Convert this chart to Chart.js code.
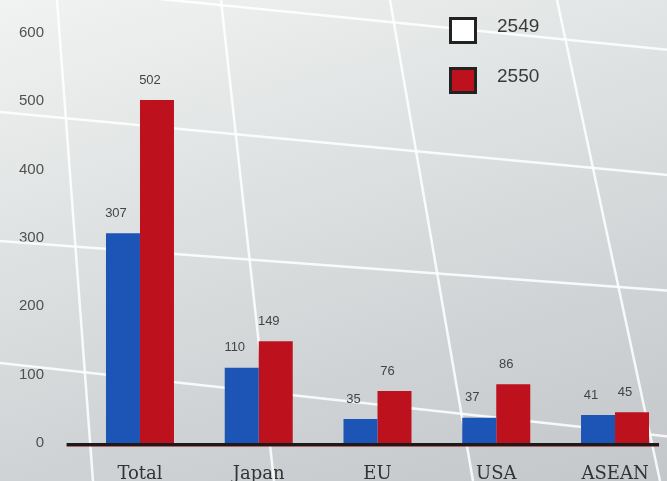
<!DOCTYPE html>
<html><head><meta charset="utf-8">
<script src="https://cdn.jsdelivr.net/npm/chart.js@4"></script>
<style>
html,body{margin:0;padding:0;width:667px;height:481px;overflow:hidden;}
body{background:linear-gradient(163deg,#f1f3f2 0%,#e0e3e3 35%,#d0d3d5 70%,#c3c7c9 100%);}
#wrap{position:relative;width:700px;height:481px;}
</style></head><body>
<div id="wrap"><canvas id="c" width="700" height="481"></canvas></div>
<script>
const categories = ['Total', 'Japan', 'EU', 'USA', 'ASEAN'];
const seriesNames = ['2549', '2550'];
const values2549 = [307, 110, 35, 37, 41];
const values2550 = [502, 149, 76, 86, 45];
const yTickValues = [0, 100, 200, 300, 400, 500, 600];

const barColors = ['#1d55b6', '#bd121d'];
const legendFills = ['#ffffff', '#bd121d'];

// decorative background lines of the photographed page (not data)
const decorLines = [
  [57, 0, 93, 481], [221, 0, 274, 481], [390, 0, 473, 481], [557, 0, 660, 481],
  [0, -17, 700, 53], [0, 112, 700, 178], [0, 241, 700, 293], [0, 363, 700, 440]
];

const decorPlugin = {
  id: 'decor',
  beforeDatasetsDraw(chart) {
    const ctx = chart.ctx;
    ctx.save();
    ctx.strokeStyle = 'rgba(255,255,255,0.85)';
    ctx.lineWidth = 2.5;
    decorLines.forEach(l => {
      ctx.beginPath(); ctx.moveTo(l[0], l[1]); ctx.lineTo(l[2], l[3]); ctx.stroke();
    });
    ctx.restore();
  }
};

const labelPlugin = {
  id: 'vals',
  afterDatasetsDraw(chart) {
    const ctx = chart.ctx;
    const ys = chart.scales.y;
    const area = chart.chartArea;
    const metaLast = chart.getDatasetMeta(chart.data.datasets.length - 1);
    const lastBar = metaLast.data[metaLast.data.length - 1];
    const y0 = ys.getPixelForValue(0);
    const x0 = area.left - 14;
    const x1 = lastBar.x + lastBar.width / 2 + 10;
    ctx.save();
    ctx.fillStyle = 'rgba(150,30,30,0.6)';
    ctx.fillRect(x0, y0 + 2.5, x1 - x0, 1.5);
    ctx.fillStyle = '#1c1a1a';
    ctx.fillRect(x0, y0, x1 - x0, 3);
    ctx.font = '13px "Liberation Sans", Arial, sans-serif';
    ctx.fillStyle = '#444';
    ctx.textAlign = 'center';
    ctx.textBaseline = 'middle';
    chart.data.datasets.forEach((ds, di) => {
      const meta = chart.getDatasetMeta(di);
      meta.data.forEach((bar, i) => {
        ctx.fillText(String(ds.data[i]), bar.x - 7, bar.y - 20);
      });
    });
    ctx.restore();
  },
  afterDraw(chart) {
    const ctx = chart.ctx;
    ctx.save();
    seriesNames.forEach((name, i) => {
      const bx = 449, by = 17 + i * 50;
      ctx.fillStyle = legendFills[i];
      ctx.fillRect(bx, by, 28, 27);
      ctx.strokeStyle = '#222';
      ctx.lineWidth = 3;
      ctx.strokeRect(bx + 1.5, by + 1.5, 25, 24);
      ctx.fillStyle = '#3a3a3a';
      ctx.font = '19px "Liberation Sans", Arial, sans-serif';
      ctx.textAlign = 'left';
      ctx.textBaseline = 'middle';
      ctx.fillText(name, 497, by + 10);
    });
    ctx.restore();
  }
};

new Chart(document.getElementById('c'), {
  type: 'bar',
  data: {
    labels: categories,
    datasets: [
      { label: seriesNames[0], data: values2549, backgroundColor: barColors[0] },
      { label: seriesNames[1], data: values2550, backgroundColor: barColors[1] }
    ]
  },
  options: {
    responsive: false,
    animation: false,
    layout: { padding: { top: 33, left: 18.6, right: 25.6, bottom: 0 } },
    datasets: { bar: { categoryPercentage: 0.5726, barPercentage: 1.0 } },
    plugins: { legend: { display: false }, tooltip: { enabled: false } },
    scales: {
      x: {
        grid: { display: false, drawTicks: false },
        border: { display: false },
        afterFit(scale) { scale.height = 38; },
        ticks: { color: '#333', padding: 21, font: { family: '"DejaVu Serif", serif', size: 18 } }
      },
      y: {
        min: 0, max: 600,
        afterFit(scale) { scale.width = 62; scale.paddingTop = 8; scale.paddingBottom = 8; },
        afterBuildTicks(scale) { scale.ticks = yTickValues.map(v => ({ value: v })); },
        grid: { display: false, drawTicks: false },
        border: { display: false },
        ticks: { color: '#505050', padding: 36.6, font: { family: '"Liberation Sans", Arial, sans-serif', size: 15 } }
      }
    }
  },
  plugins: [decorPlugin, labelPlugin]
});
</script>
</body></html>
